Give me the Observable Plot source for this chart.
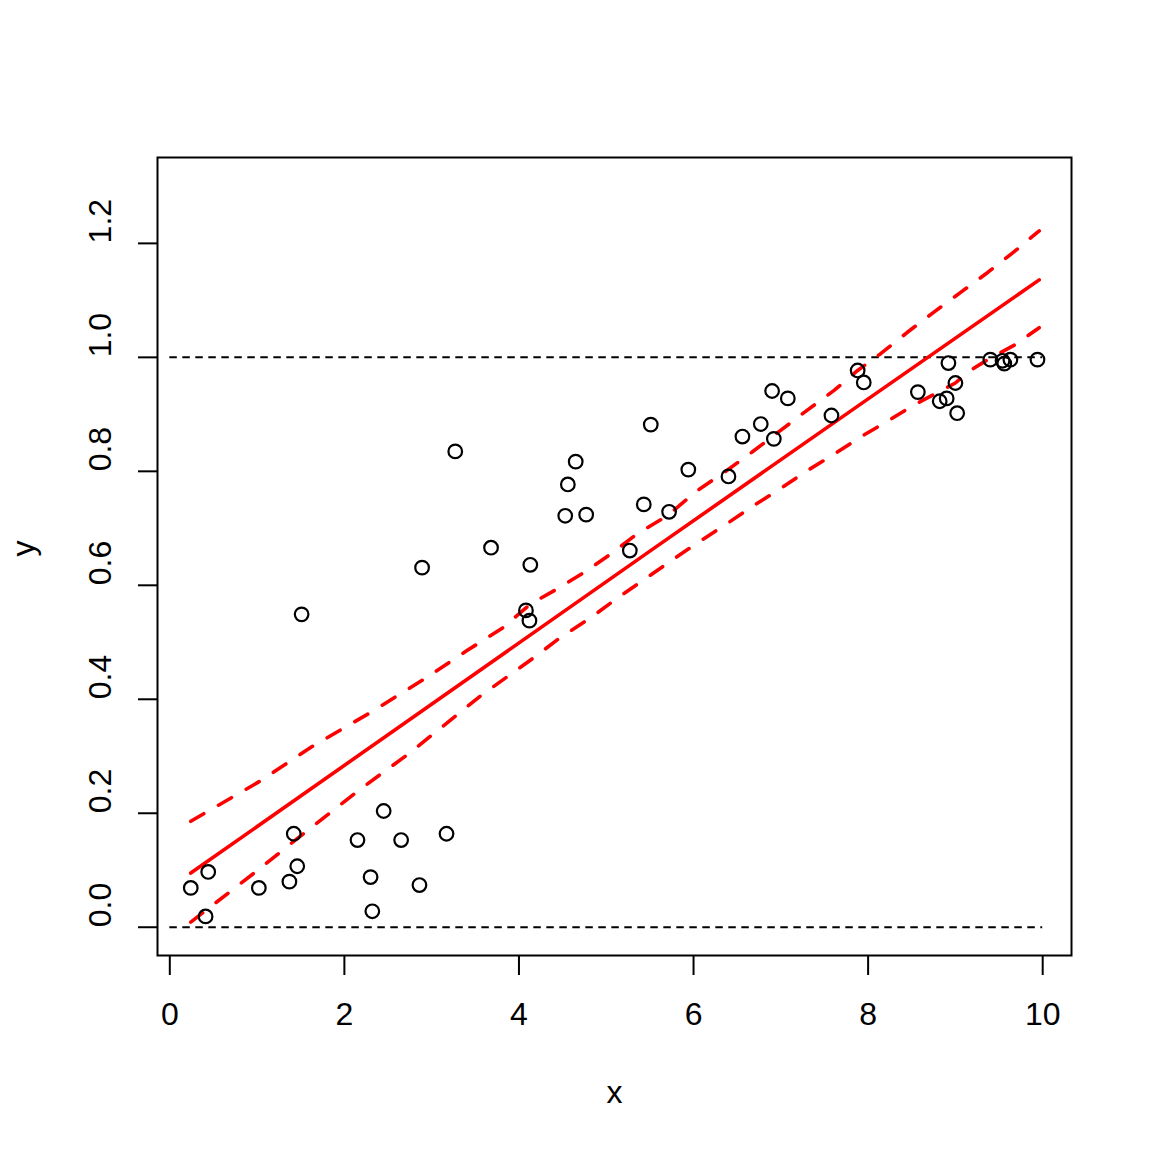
<!DOCTYPE html>
<html>
<head>
<meta charset="utf-8">
<script src="https://cdn.jsdelivr.net/npm/d3@7"></script>
<script src="https://cdn.jsdelivr.net/npm/@observablehq/plot@0.6"></script>
<style>
  html, body { margin: 0; padding: 0; background: #fff; }
  #chart svg { display: block; font-family: "Liberation Sans", Arial, sans-serif; }
</style>
</head>
<body>
<div id="chart"></div>
<script>
// Observations
const pointX = [0.24,0.44,0.41,1.02,1.37,1.42,1.46,1.51,2.15,2.30,
                2.32,2.45,2.65,2.86,2.89,3.17,3.27,3.68,4.08,4.12,
                4.13,4.53,4.56,4.65,4.77,5.27,5.43,5.51,5.72,5.94,
                6.40,6.56,6.77,6.90,6.92,7.08,7.58,7.88,7.95,8.57,
                8.82,8.90,8.92,9.00,9.02,9.40,9.54,9.56,9.63,9.94];
const pointY = [0.069,0.097,0.019,0.069,0.080,0.164,0.107,0.549,0.153,0.088,
                0.028,0.204,0.153,0.074,0.631,0.164,0.835,0.666,0.556,0.538,
                0.636,0.722,0.777,0.817,0.724,0.661,0.742,0.882,0.729,0.803,
                0.791,0.861,0.883,0.941,0.857,0.928,0.898,0.977,0.956,0.939,
                0.923,0.928,0.990,0.955,0.902,0.996,0.994,0.989,0.996,0.996];

// Fitted line
const fitX = [0.24, 5.50, 7.84, 9.96];
const fitY = [0.095, 0.660, 0.910, 1.136];

// Upper band
const upperX = [0.24,1.03,1.64,2.29,2.94,3.40,3.82,4.13,4.43,4.74,5.08,5.35,5.70,6.04,6.35,6.69,6.99,7.30,7.61,7.88,8.14,8.45,8.75,9.06,9.37,9.67,9.96];
const upperY = [0.186,0.256,0.318,0.376,0.438,0.485,0.526,0.567,0.593,0.622,0.658,0.690,0.722,0.766,0.798,0.836,0.871,0.907,0.942,0.977,1.006,1.044,1.079,1.114,1.149,1.185,1.222];

// Lower band
const lowerX = [0.24,0.99,1.57,2.18,2.75,3.56,4.17,4.47,4.82,5.14,5.47,5.77,6.08,6.40,6.69,6.99,7.30,7.61,7.91,8.20,8.52,8.83,9.00,9.15,9.37,9.67,9.96];
const lowerY = [0.009,0.098,0.169,0.242,0.306,0.406,0.473,0.508,0.543,0.579,0.614,0.646,0.678,0.710,0.740,0.769,0.801,0.830,0.860,0.886,0.916,0.941,0.955,0.975,0.996,1.021,1.052];

// Reference lines
const refY = [0, 1];
const refXStart = 0;
const refXEnd = 10;

// Ticks
const xTicks = [0, 2, 4, 6, 8, 10];
const yTicks = [0, 0.2, 0.4, 0.6, 0.8, 1.0, 1.2];

const points = pointX.map((x, i) => ({x, y: pointY[i]}));
const fit = fitX.map((x, i) => ({x, y: fitY[i]}));
const upper = upperX.map((x, i) => ({x, y: upperY[i]}));
const lower = lowerX.map((x, i) => ({x, y: lowerY[i]}));

const chart = Plot.plot({
  width: 1152,
  height: 1152,
  marginLeft: 157,
  marginRight: 81,
  marginTop: 157,
  marginBottom: 197,
  style: {fontFamily: "Liberation Sans, Arial, sans-serif", background: "#fff"},
  x: {domain: [-0.141, 10.33], label: null},
  y: {domain: [-0.0496, 1.3507], label: null},
  marks: [
    Plot.ruleY(refY, {y: d => d, x1: refXStart, x2: refXEnd, stroke: "black", strokeWidth: 2, strokeDasharray: "7.5,5.5"}),
    Plot.line(fit, {x: "x", y: "y", stroke: "#ff0000", strokeWidth: 3.6, strokeLinecap: "round"}),
    Plot.line(upper, {x: "x", y: "y", stroke: "#ff0000", strokeWidth: 3.6, strokeDasharray: "15,17", strokeLinecap: "round"}),
    Plot.line(lower, {x: "x", y: "y", stroke: "#ff0000", strokeWidth: 3.6, strokeDasharray: "15,17", strokeLinecap: "round"}),
    Plot.dot(points, {x: "x", y: "y", r: 6.8, stroke: "black", strokeWidth: 2.2, fill: "none"}),
    Plot.frame({stroke: "black", strokeWidth: 2}),
    Plot.axisX({ticks: xTicks, tickSize: 20, tickPadding: 27, fontSize: 32, tickFormat: d => String(d), label: null, strokeWidth: 2}),
    Plot.axisY({ticks: yTicks, tickSize: 19, tickFormat: () => "", label: null, strokeWidth: 2}),
    Plot.text(yTicks, {y: d => d, text: d => d.toFixed(1), frameAnchor: "left", dx: -57, rotate: -90, fontSize: 32, fill: "black"}),
    Plot.text(["x"], {text: d => d, frameAnchor: "bottom", dy: 147, fontSize: 32, fill: "black"}),
    Plot.text(["y"], {text: d => d, frameAnchor: "left", dx: -134, rotate: -90, fontSize: 32, fill: "black"})
  ]
});
document.getElementById("chart").appendChild(chart);
</script>
</body>
</html>
